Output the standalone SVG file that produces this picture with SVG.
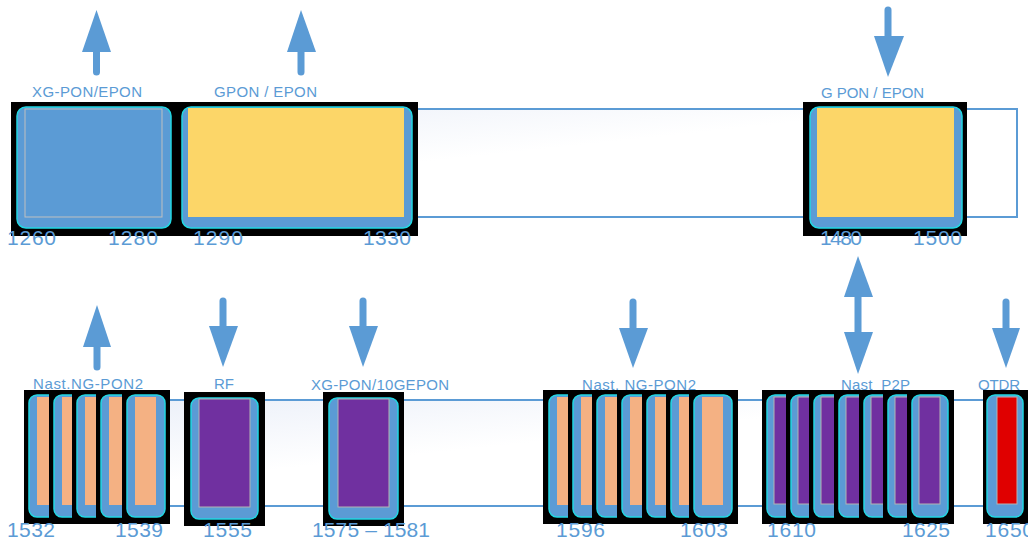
<svg xmlns="http://www.w3.org/2000/svg" width="1028" height="539" viewBox="0 0 1028 539">
<defs>
<linearGradient id="bandGrad" x1="0" y1="0" x2="1" y2="1">
<stop offset="0" stop-color="#e9eef8"/>
<stop offset="0.45" stop-color="#ffffff"/>
<stop offset="1" stop-color="#ffffff"/>
</linearGradient>
<style>
.band{fill:url(#bandGrad);stroke:#5B9BD5;stroke-width:2}
.bk{fill:#000000}
.bl{fill:#5B9BD5;stroke:#22d8e4;stroke-width:1.5}
.or{fill:#F4B183}
.pu{fill:#7030A0;stroke:#b4b4b4;stroke-width:1}
.rd{fill:#E00000;stroke:#b4b4b4;stroke-width:1}
.ye{fill:#FCD668}
.inb{fill:#5B9BD5;stroke:#c0c0c0;stroke-width:1}
.lbl{font-family:"Liberation Sans",Arial,sans-serif;font-size:15px;fill:#5B9BD5}
.num{font-family:"Liberation Sans",Arial,sans-serif;font-size:21px;fill:#5B9BD5}
.shaft{stroke:#5B9BD5;stroke-width:7;stroke-linecap:round;fill:none}
.head{fill:#5B9BD5}
</style>
</defs>
<rect width="1028" height="539" fill="#ffffff"/>

<g id="bands">
<rect class="band" x="14" y="109" width="1003" height="108"/>
<rect class="band" x="28" y="400" width="1012" height="106"/>
</g>

<g id="labels">
<text class="lbl" x="32" y="97" textLength="110" lengthAdjust="spacing">XG-PON/EPON</text>
<text class="lbl" x="214" y="97" textLength="103" lengthAdjust="spacing">GPON / EPON</text>
<text class="lbl" x="821" y="98"><tspan>G</tspan><tspan dx="4">PON / EPON</tspan></text>
<text class="lbl" x="33" y="389" textLength="110" lengthAdjust="spacing">Nast.NG-PON2</text>
<text class="lbl" x="214" y="389">RF</text>
<text class="lbl" x="311" y="390" textLength="138" lengthAdjust="spacing">XG-PON/10GEPON</text>
<text class="lbl" x="582" y="390" textLength="114" lengthAdjust="spacing">Nast. NG-PON2</text>
<text class="lbl" x="841" y="390" textLength="69" lengthAdjust="spacing">Nast_P2P</text>
<text class="lbl" x="978" y="390" textLength="42" lengthAdjust="spacing">OTDR</text>
</g>

<g id="node-xgpon-epon">
<rect class="bk" x="11" y="102" width="170" height="134"/>
<rect class="bl" x="17" y="107" width="154" height="121" rx="9"/>
<rect class="inb" x="25" y="109" width="137" height="108"/>
</g>
<g id="node-gpon-epon">
<rect class="bk" x="176" y="102" width="242" height="134"/>
<rect class="bl" x="182" y="107" width="230" height="121" rx="9"/>
<rect class="ye" x="188" y="108" width="216" height="109"/>
</g>
<g id="node-gpon-epon-2">
<rect class="bk" x="803" y="102" width="164" height="134"/>
<rect class="bl" x="810" y="107" width="152" height="121" rx="9"/>
<rect class="ye" x="817" y="108" width="137" height="109"/>
</g>

<g id="node-nast-ngpon2-a">
<rect class="bk" x="24" y="390" width="49" height="134"/>
<rect class="bl" x="29" y="395" width="38" height="122" rx="8"/>
<rect class="or" x="37" y="397" width="21" height="108"/>
<rect class="bk" x="49" y="390" width="49" height="134"/>
<rect class="bl" x="54" y="395" width="38" height="122" rx="8"/>
<rect class="or" x="62" y="397" width="21" height="108"/>
<rect class="bk" x="72" y="390" width="49" height="134"/>
<rect class="bl" x="77" y="395" width="38" height="122" rx="8"/>
<rect class="or" x="85" y="397" width="21" height="108"/>
<rect class="bk" x="96" y="390" width="49" height="134"/>
<rect class="bl" x="101" y="395" width="38" height="122" rx="8"/>
<rect class="or" x="109" y="397" width="21" height="108"/>
<rect class="bk" x="122" y="390" width="48" height="134"/>
<rect class="bl" x="127" y="395" width="38" height="122" rx="8"/>
<rect class="or" x="135" y="397" width="21" height="108"/>
</g>

<g id="node-rf">
<rect class="bk" x="184" y="392" width="81" height="134"/>
<rect class="bl" x="191" y="398" width="67" height="121" rx="8"/>
<rect class="pu" x="199" y="399" width="51" height="108"/>
</g>

<g id="node-xgpon-10gepon">
<rect class="bk" x="323" y="392" width="81" height="134"/>
<rect class="bl" x="329" y="398" width="69" height="121" rx="8"/>
<rect class="pu" x="338" y="399" width="51" height="108"/>
</g>

<g id="node-nast-ngpon2-b">
<rect class="bk" x="543" y="390" width="50" height="134"/>
<rect class="bl" x="549" y="395" width="38" height="122" rx="8"/>
<rect class="or" x="557" y="397" width="21" height="108"/>
<rect class="bk" x="568" y="390" width="49" height="134"/>
<rect class="bl" x="573" y="395" width="38" height="122" rx="8"/>
<rect class="or" x="581" y="397" width="21" height="108"/>
<rect class="bk" x="592" y="390" width="49" height="134"/>
<rect class="bl" x="597" y="395" width="38" height="122" rx="8"/>
<rect class="or" x="605" y="397" width="21" height="108"/>
<rect class="bk" x="617" y="390" width="49" height="134"/>
<rect class="bl" x="622" y="395" width="38" height="122" rx="8"/>
<rect class="or" x="630" y="397" width="21" height="108"/>
<rect class="bk" x="642" y="390" width="49" height="134"/>
<rect class="bl" x="647" y="395" width="38" height="122" rx="8"/>
<rect class="or" x="655" y="397" width="21" height="108"/>
<rect class="bk" x="666" y="390" width="49" height="134"/>
<rect class="bl" x="671" y="395" width="38" height="122" rx="8"/>
<rect class="or" x="679" y="397" width="21" height="108"/>
<rect class="bk" x="689" y="390" width="49" height="134"/>
<rect class="bl" x="694" y="395" width="38" height="122" rx="8"/>
<rect class="or" x="702" y="397" width="21" height="108"/>
</g>

<g id="node-nast-p2p">
<rect class="bk" x="762" y="390" width="49" height="134"/>
<rect class="bl" x="767" y="395" width="37" height="122" rx="8"/>
<rect class="pu" x="774" y="397" width="21" height="107"/>
<rect class="bk" x="786" y="390" width="49" height="134"/>
<rect class="bl" x="791" y="395" width="37" height="122" rx="8"/>
<rect class="pu" x="798" y="397" width="21" height="107"/>
<rect class="bk" x="809" y="390" width="49" height="134"/>
<rect class="bl" x="814" y="395" width="37" height="122" rx="8"/>
<rect class="pu" x="821" y="397" width="21" height="107"/>
<rect class="bk" x="834" y="390" width="49" height="134"/>
<rect class="bl" x="839" y="395" width="37" height="122" rx="8"/>
<rect class="pu" x="846" y="397" width="21" height="107"/>
<rect class="bk" x="859" y="390" width="49" height="134"/>
<rect class="bl" x="864" y="395" width="37" height="122" rx="8"/>
<rect class="pu" x="871" y="397" width="21" height="107"/>
<rect class="bk" x="883" y="390" width="49" height="134"/>
<rect class="bl" x="888" y="395" width="37" height="122" rx="8"/>
<rect class="pu" x="895" y="397" width="21" height="107"/>
<rect class="bk" x="907" y="390" width="47" height="134"/>
<rect class="bl" x="912" y="395" width="36" height="122" rx="8"/>
<rect class="pu" x="919" y="397" width="21" height="107"/>
</g>

<g id="node-otdr">
<rect class="bk" x="983" y="390" width="50" height="134"/>
<rect class="bl" x="987" y="395" width="36" height="122" rx="8"/>
<rect class="rd" x="997" y="397" width="20" height="107"/>
</g>

<g id="connectors">
<line class="shaft" x1="96.5" y1="72" x2="96.5" y2="50"/>
<polygon class="head" points="82,52 111,52 96.5,10"/>
<line class="shaft" x1="301" y1="72" x2="301" y2="50"/>
<polygon class="head" points="287,52 316,52 301,10"/>
<line class="shaft" x1="888" y1="10" x2="888" y2="38"/>
<polygon class="head" points="874,36 904,36 888,77"/>
<line class="shaft" x1="97" y1="367" x2="97" y2="345"/>
<polygon class="head" points="83,347 111,347 97,305"/>
<line class="shaft" x1="223" y1="301" x2="223" y2="328"/>
<polygon class="head" points="209,326 238,326 223,367"/>
<line class="shaft" x1="363" y1="301" x2="363" y2="328"/>
<polygon class="head" points="349,326 378,326 363,367"/>
<line class="shaft" x1="633" y1="302" x2="633" y2="330"/>
<polygon class="head" points="619,328 648,328 633,368"/>
<line class="shaft" x1="858" y1="295" x2="858" y2="334"/>
<polygon class="head" points="844,297 873,297 858,256"/>
<polygon class="head" points="844,332 873,332 858,374"/>
<line class="shaft" x1="1006" y1="302" x2="1006" y2="330"/>
<polygon class="head" points="992,328 1020,328 1006,368"/>
</g>

<g id="numbers">
<text class="num" x="7" y="245" textLength="49" lengthAdjust="spacing">1260</text>
<text class="num" x="108" y="245" textLength="50" lengthAdjust="spacing">1280</text>
<text class="num" x="193" y="245" textLength="50" lengthAdjust="spacing">1290</text>
<text class="num" x="363" y="245" textLength="48" lengthAdjust="spacing">1330</text>
<text class="num" x="820" y="245" textLength="42" lengthAdjust="spacing">1480</text>
<text class="num" x="913" y="245" textLength="49" lengthAdjust="spacing">1500</text>
<text class="num" x="7" y="537" textLength="48" lengthAdjust="spacing">1532</text>
<text class="num" x="115" y="537" textLength="48" lengthAdjust="spacing">1539</text>
<text class="num" x="203" y="537" textLength="49" lengthAdjust="spacing">1555</text>
<text class="num" x="312" y="537" textLength="118" lengthAdjust="spacing">1575 – 1581</text>
<text class="num" x="556" y="537" textLength="49" lengthAdjust="spacing">1596</text>
<text class="num" x="680" y="537" textLength="48" lengthAdjust="spacing">1603</text>
<text class="num" x="767" y="537" textLength="49" lengthAdjust="spacing">1610</text>
<text class="num" x="902" y="537" textLength="48" lengthAdjust="spacing">1625</text>
<text class="num" x="985" y="537" textLength="49" lengthAdjust="spacing">1650</text>
</g>
</svg>
